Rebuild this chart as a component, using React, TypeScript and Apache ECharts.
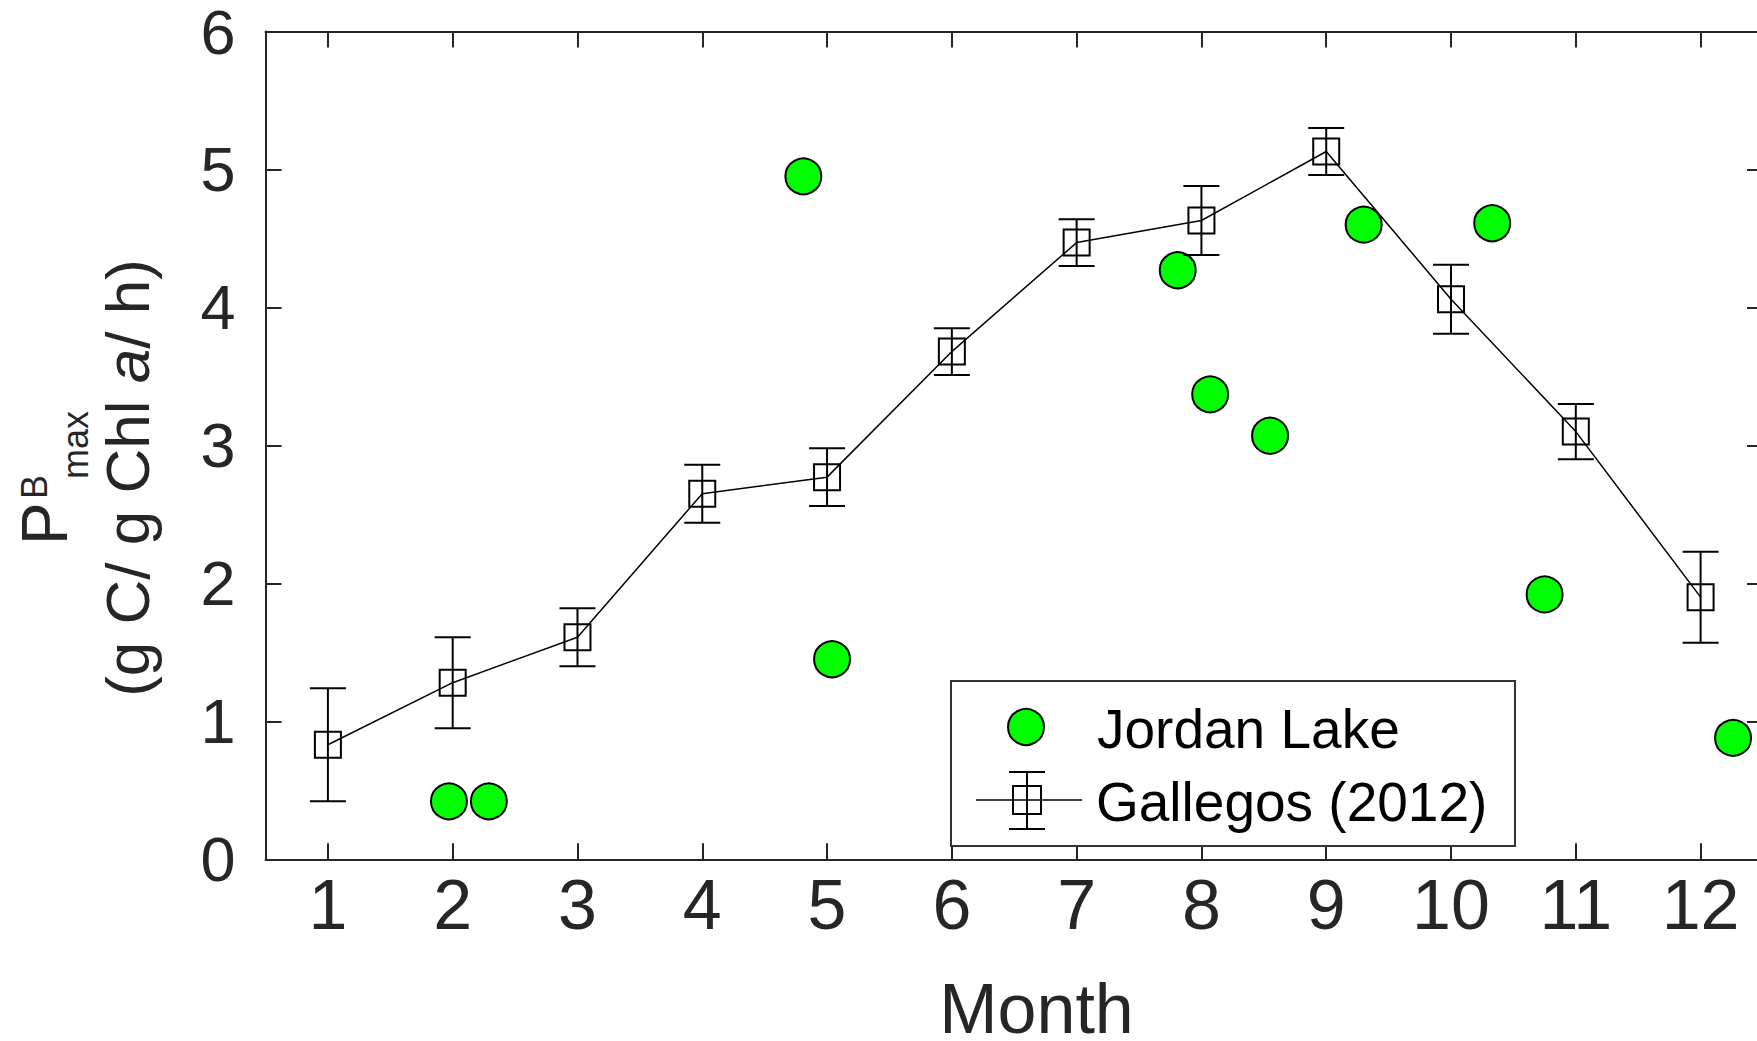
import React, { useEffect, useRef } from "react";
import * as echarts from "echarts";

const months = [1, 2, 3, 4, 5, 6, 7, 8, 9, 10, 11, 12];
const gallegosMean = [0.83, 1.28, 1.61, 2.65, 2.77, 3.68, 4.47, 4.63, 5.13, 4.06, 3.1, 1.9];
const gallegosErr = [0.41, 0.33, 0.21, 0.21, 0.21, 0.17, 0.17, 0.25, 0.17, 0.25, 0.2, 0.33];
const jordanMonth = [1.97, 2.29, 4.81, 5.04, 7.81, 8.07, 8.55, 9.3, 10.33, 10.75, 12.26];
const jordanPmax = [0.42, 0.42, 4.95, 1.45, 4.27, 3.37, 3.07, 4.6, 4.61, 1.92, 0.88];
const xTicks = [1, 2, 3, 4, 5, 6, 7, 8, 9, 10, 11, 12];

const FONT = "'Liberation Sans', Arial, sans-serif";
const AX = "#262626";

export default function App() {
  const ref = useRef<HTMLDivElement>(null);
  useEffect(() => {
    if (!ref.current) return;
    const chart = echarts.init(ref.current, null, { renderer: "svg" });
    const axisLine = { onZero: false, lineStyle: { color: AX, width: 2 } };
    const tick = { inside: true, length: 16, lineStyle: { color: AX, width: 2 } };
    const option: any = {
      animation: false,
      backgroundColor: "#ffffff",
      grid: { left: 265.5, top: 29.3, right: 0, bottom: 181.7, containLabel: false },
      xAxis: [
        {
          type: "value",
          min: 0.5,
          max: 12.452,
          position: "bottom",
          axisLine,
          axisTick: { ...tick, customValues: xTicks },
          axisLabel: {
            customValues: xTicks,
            fontSize: 70,
            lineHeight: 60,
            margin: 16,
            color: AX,
            fontFamily: FONT,
            formatter: (v: number) => String(v),
          },
          splitLine: { show: false },
        },
        {
          type: "value",
          min: 0.5,
          max: 12.452,
          position: "top",
          axisLine,
          axisTick: { ...tick, customValues: xTicks },
          axisLabel: { show: false },
          splitLine: { show: false },
        },
      ],
      yAxis: [
        {
          type: "value",
          min: 0,
          max: 6,
          interval: 1,
          position: "left",
          axisLine,
          axisTick: tick,
          axisLabel: { fontSize: 63, lineHeight: 48, margin: 30, color: AX, fontFamily: FONT },
          splitLine: { show: false },
        },
        {
          type: "value",
          min: 0,
          max: 6,
          interval: 1,
          position: "right",
          axisLine: { show: false },
          axisTick: { inside: true, length: 10, lineStyle: { color: AX, width: 2 } },
          axisLabel: { show: false },
          splitLine: { show: false },
        },
      ],
      series: [
        {
          name: "Jordan Lake",
          type: "scatter",
          xAxisIndex: 0,
          yAxisIndex: 0,
          symbol: "circle",
          symbolSize: 36,
          itemStyle: { color: "#00ff00", borderColor: "#000000", borderWidth: 2, opacity: 1 },
          data: jordanMonth.map((m, i) => [m, jordanPmax[i]]),
          z: 2,
        },
        {
          name: "Gallegos error",
          type: "custom",
          xAxisIndex: 0,
          yAxisIndex: 0,
          data: months.map((m, i) => [m, gallegosMean[i], gallegosErr[i]]),
          renderItem: (params: any, api: any) => {
            const x = api.value(0);
            const y = api.value(1);
            const e = api.value(2);
            const top = api.coord([x, y + e]);
            const bot = api.coord([x, y - e]);
            const hw = 18;
            const st = { stroke: "#000000", lineWidth: 2 };
            return {
              type: "group",
              children: [
                { type: "line", shape: { x1: top[0], y1: top[1], x2: bot[0], y2: bot[1] }, style: st },
                { type: "line", shape: { x1: top[0] - hw, y1: top[1], x2: top[0] + hw, y2: top[1] }, style: st },
                { type: "line", shape: { x1: bot[0] - hw, y1: bot[1], x2: bot[0] + hw, y2: bot[1] }, style: st },
              ],
            };
          },
          z: 3,
        },
        {
          name: "Gallegos (2012)",
          type: "line",
          xAxisIndex: 0,
          yAxisIndex: 0,
          symbol: "rect",
          symbolSize: 26,
          showAllSymbol: true,
          itemStyle: { color: "rgba(0,0,0,0)", borderColor: "#000000", borderWidth: 2 },
          lineStyle: { color: "#000000", width: 1.5 },
          data: months.map((m, i) => [m, gallegosMean[i]]),
          z: 4,
        },
      ],
      graphic: [
        {
          type: "text",
          x: 44.7,
          y: 545,
          rotation: Math.PI / 2,
          style: { text: "P", font: `64px ${FONT}`, fill: AX, align: "left", verticalAlign: "middle" },
        },
        {
          type: "text",
          x: 34,
          y: 499,
          rotation: Math.PI / 2,
          style: { text: "B", font: `36px ${FONT}`, fill: AX, align: "left", verticalAlign: "middle" },
        },
        {
          type: "text",
          x: 75.5,
          y: 479,
          rotation: Math.PI / 2,
          style: { text: "max", font: `36px ${FONT}`, fill: AX, align: "left", verticalAlign: "middle" },
        },
        {
          type: "text",
          x: 127.5,
          y: 478,
          rotation: Math.PI / 2,
          style: {
            text: "{n|(g C/ g Chl }{i|a}{n|/ h)}",
            align: "center",
            verticalAlign: "middle",
            rich: {
              n: { fontSize: 62, fontFamily: FONT, fill: AX, color: AX },
              i: { fontSize: 62, fontFamily: FONT, fontStyle: "italic", fill: AX, color: AX },
            },
          },
        },
        {
          type: "text",
          x: 1036.5,
          y: 1009,
          style: {
            text: "Month",
            fontSize: 70,
            fontFamily: FONT,
            lineHeight: 56,
            fill: AX,
            align: "center",
            verticalAlign: "middle",
          },
        },
        {
          type: "rect",
          shape: { x: 951, y: 681, width: 564, height: 165 },
          style: { fill: "#ffffff", stroke: "#333333", lineWidth: 2 },
          z: 10,
        },
        {
          type: "circle",
          shape: { cx: 1026, cy: 727, r: 18 },
          style: { fill: "#00ff00", stroke: "#000000", lineWidth: 2 },
          z: 11,
        },
        {
          type: "text",
          x: 1097,
          y: 729,
          style: { text: "Jordan Lake", font: `55px ${FONT}`, fill: "#000000", align: "left", verticalAlign: "middle" },
          z: 11,
        },
        {
          type: "line",
          shape: { x1: 976, y1: 800, x2: 1082, y2: 800 },
          style: { stroke: "#000000", lineWidth: 1.5 },
          z: 11,
        },
        {
          type: "line",
          shape: { x1: 1027, y1: 772, x2: 1027, y2: 829 },
          style: { stroke: "#000000", lineWidth: 2 },
          z: 11,
        },
        {
          type: "line",
          shape: { x1: 1009, y1: 772, x2: 1045, y2: 772 },
          style: { stroke: "#000000", lineWidth: 2 },
          z: 11,
        },
        {
          type: "line",
          shape: { x1: 1009, y1: 829, x2: 1045, y2: 829 },
          style: { stroke: "#000000", lineWidth: 2 },
          z: 11,
        },
        {
          type: "rect",
          shape: { x: 1013, y: 786, width: 28, height: 28 },
          style: { fill: "rgba(0,0,0,0)", stroke: "#000000", lineWidth: 2 },
          z: 11,
        },
        {
          type: "text",
          x: 1096,
          y: 802,
          style: { text: "Gallegos (2012)", font: `55px ${FONT}`, fill: "#000000", align: "left", verticalAlign: "middle" },
          z: 11,
        },
      ],
    };
    chart.setOption(option);
    return () => chart.dispose();
  }, []);
  return (
    <div
      ref={ref}
      style={{ position: "absolute", left: 0, top: 0, width: 1757, height: 1041, background: "#fff" }}
    />
  );
}
